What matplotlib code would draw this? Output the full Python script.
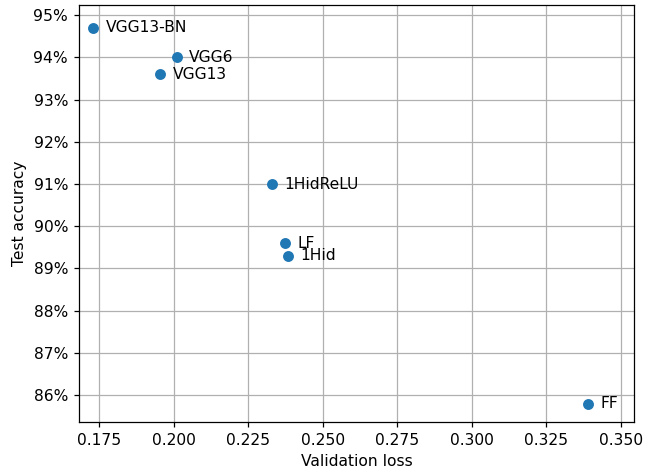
import matplotlib
matplotlib.use("Agg")
import matplotlib.pyplot as plt
from matplotlib.ticker import PercentFormatter

# model results: validation loss vs test accuracy
models = ["VGG13-BN", "VGG6", "VGG13", "1HidReLU", "LF", "1Hid", "FF"]
val_loss = [0.173, 0.201, 0.1955, 0.233, 0.2375, 0.2385, 0.339]
test_acc = [0.947, 0.940, 0.936, 0.910, 0.896, 0.893, 0.858]

DPI = 112
fig, ax = plt.subplots(figsize=(655 / DPI, 469 / DPI), dpi=DPI)
fig.subplots_adjust(left=0.1206, right=0.968, bottom=0.100, top=0.989)

ax.scatter(val_loss, test_acc, color="#1f77b4", zorder=3)
for name, x, y in zip(models, val_loss, test_acc):
    ax.annotate(name, (x, y), xytext=(8, 0), textcoords="offset points",
                va="center", ha="left", fontsize=10)

ax.set_xlim(0.1683, 0.3544)
ax.set_ylim(0.8536, 0.9524)
ax.set_xticks([0.175, 0.2, 0.225, 0.25, 0.275, 0.3, 0.325, 0.35])
ax.set_yticks([0.86, 0.87, 0.88, 0.89, 0.90, 0.91, 0.92, 0.93, 0.94, 0.95])
ax.yaxis.set_major_formatter(PercentFormatter(1.0, decimals=0))
ax.grid(True, color="#b0b0b0", linewidth=0.8)
ax.set_axisbelow(True)

ax.set_xlabel("Validation loss")
ax.set_ylabel("Test accuracy")

fig.savefig("out.png", dpi=DPI)
